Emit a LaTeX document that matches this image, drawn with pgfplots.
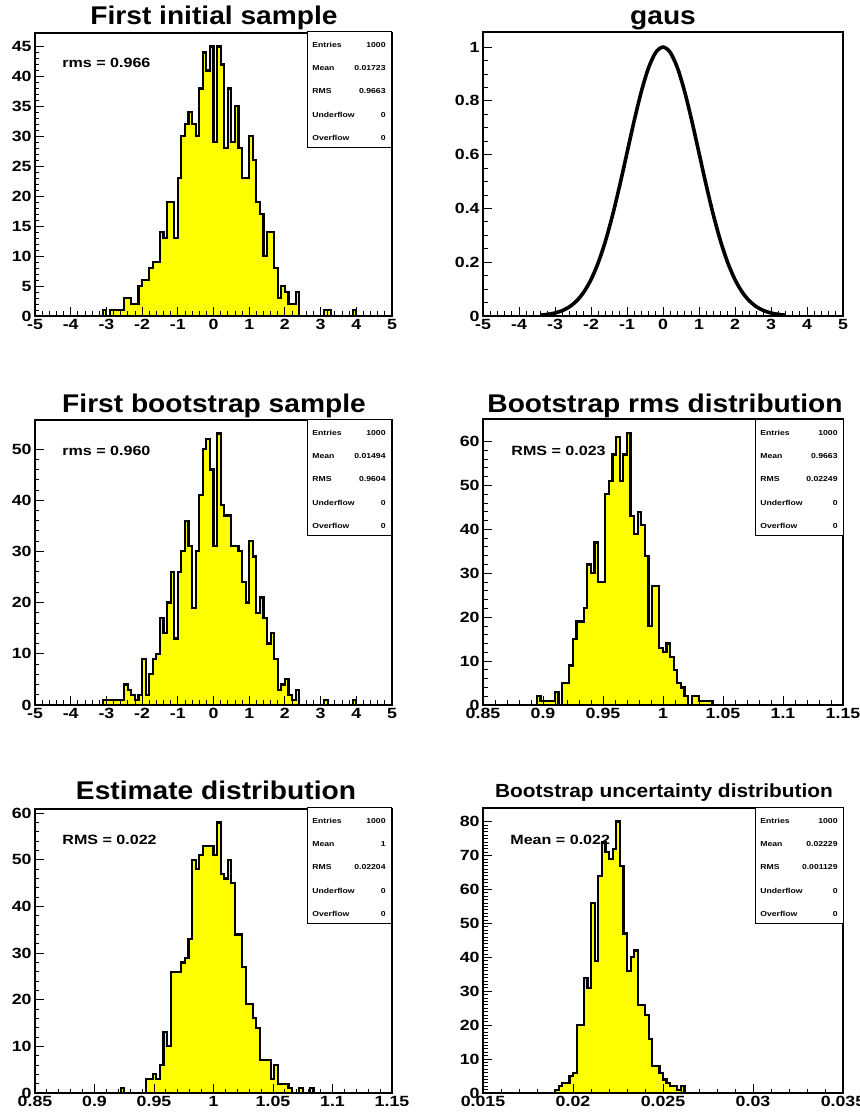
\documentclass[border=0pt]{standalone}
\usepackage{fontspec}
\setmainfont{Liberation Sans}[FakeStretch=1.1]
\newfontfamily\lab{Liberation Sans}[FakeStretch=1.2]
\usepackage{pgfplots}
\pgfplotsset{compat=1.18}
\definecolor{rootyellow}{RGB}{255,255,0}
\newcommand\tickfont{\lab\bfseries\fontsize{7.4}{8}\selectfont}
\newcommand\statfont{\lab\bfseries\fontsize{3.6}{4}\selectfont}
\newcommand\titlefont{\bfseries\fontsize{12.8}{14}\selectfont}
\newcommand\txtfont{\lab\bfseries\fontsize{6.7}{8}\selectfont}
\pgfplotsset{
 rootax/.style={
  scale only axis, axis on top, tick align=inside, tick pos=left,
  axis line style={line width=0.65pt},
  major tick length=4.5pt, minor tick length=2.25pt,
  tick style={black, line width=0.4pt},
  ticklabel style={font=\tickfont},
  xticklabel style={inner sep=1.5pt},
  yticklabel style={inner sep=1.5pt},
  ymin=0, anchor=south west,
 },
 hist/.style={const plot mark left, fill=rootyellow, draw=black, line width=1.1pt, line join=miter},
}
\newcommand{\statbox}[6]{%
 \draw[line width=0.5pt, fill=white] (#1,{1116-#2}) rectangle (#3,{1116-#2-116});
 \foreach \lbl/\val [count=\i from 0] in {Entries/#4, Mean/#5, RMS/#6, Underflow/0, Overflow/0} {
   \node[anchor=west, inner sep=0, font=\statfont] at ({#1+5},{1116-#2-12.8-23.3*\i}) {\lbl};
   \node[anchor=east, inner sep=0, font=\statfont] at ({#3-5},{1116-#2-12.8-23.3*\i}) {\val};
 }}
\begin{document}
\begin{tikzpicture}[x=0.5pt,y=0.5pt]
\path[use as bounding box] (0,0) rectangle (860,1116);

% ---------- Panel 1 ----------
\begin{axis}[rootax, at={(17.5pt,400pt)}, width=178.5pt, height=141.5pt,
  xmin=-5, xmax=5, ymax=47.25,
  xtick={-5,-4,-3,-2,-1,0,1,2,3,4,5}, xticklabels={-5,-4,-3,-2,-1,0,1,2,3,4,5}, minor x tick num=4,
  ytick={0,5,10,15,20,25,30,35,40,45}, yticklabels={0,5,10,15,20,25,30,35,40,45}, minor y tick num=4]
\addplot[hist] coordinates {(-5,0) (-3.1,1) (-3.0,0) (-2.9,1) (-2.8,1) (-2.7,1) (-2.6,1) (-2.5,3) (-2.4,3) (-2.3,2) (-2.2,2) (-2.1,5) (-2.0,6) (-1.9,6) (-1.8,8) (-1.7,9) (-1.6,9) (-1.5,14) (-1.4,13) (-1.3,19) (-1.2,19) (-1.1,13) (-1.0,23) (-0.9,30) (-0.8,32) (-0.7,34) (-0.6,32) (-0.5,30) (-0.4,38) (-0.3,44) (-0.2,41) (-0.1,45) (0.0,29) (0.1,45) (0.2,42) (0.3,28) (0.4,38) (0.5,29) (0.6,35) (0.7,28) (0.8,23) (0.9,23) (1.0,30) (1.1,26) (1.2,19) (1.3,17) (1.4,10) (1.5,14) (1.6,14) (1.7,8) (1.8,3) (1.9,5) (2.0,4) (2.1,2) (2.2,2) (2.3,4) (2.4,0) (3.1,1) (3.2,1) (3.3,0) (3.9,1) (4.0,0) (5,0)};
\end{axis}

% ---------- Panel 2 (gaus) ----------
\begin{axis}[rootax, at={(241.5pt,400pt)}, width=180pt, height=142pt,
  xmin=-5, xmax=5, ymax=1.056,
  xtick={-5,-4,-3,-2,-1,0,1,2,3,4,5}, xticklabels={-5,-4,-3,-2,-1,0,1,2,3,4,5}, minor x tick num=4,
  ytick={0,0.2,0.4,0.6,0.8,1}, yticklabels={0,0.2,0.4,0.6,0.8,1}, minor y tick num=3]
\addplot[black, line width=1.8pt, smooth] coordinates {(-3.4,0.0031) (-3.2,0.0060) (-3.0,0.0111) (-2.8,0.0198) (-2.6,0.0340) (-2.4,0.0561) (-2.2,0.0889) (-2.0,0.1353) (-1.8,0.1979) (-1.6,0.2780) (-1.4,0.3753) (-1.2,0.4868) (-1.0,0.6065) (-0.8,0.7261) (-0.6,0.8353) (-0.4,0.9231) (-0.2,0.9802) (0,1) (0.2,0.9802) (0.4,0.9231) (0.6,0.8353) (0.8,0.7261) (1.0,0.6065) (1.2,0.4868) (1.4,0.3753) (1.6,0.2780) (1.8,0.1979) (2.0,0.1353) (2.2,0.0889) (2.4,0.0561) (2.6,0.0340) (2.8,0.0198) (3.0,0.0111) (3.2,0.0060) (3.4,0.0031)};
\end{axis}

% ---------- Panel 3 ----------
\begin{axis}[rootax, at={(17.5pt,205.5pt)}, width=178.5pt, height=142.5pt,
  xmin=-5, xmax=5, ymax=55.65,
  xtick={-5,-4,-3,-2,-1,0,1,2,3,4,5}, xticklabels={-5,-4,-3,-2,-1,0,1,2,3,4,5}, minor x tick num=4,
  ytick={0,10,20,30,40,50}, yticklabels={0,10,20,30,40,50}, minor y tick num=4]
\addplot[hist] coordinates {(-5,0) (-3.1,1) (-3.0,1) (-2.9,1) (-2.8,1) (-2.7,1) (-2.6,1) (-2.5,4) (-2.4,3) (-2.3,2) (-2.2,1) (-2.1,2) (-2.0,9) (-1.9,2) (-1.8,6) (-1.7,9) (-1.6,10) (-1.5,17) (-1.4,14) (-1.3,20) (-1.2,26) (-1.1,13) (-1.0,26) (-0.9,30) (-0.8,36) (-0.7,31) (-0.6,19) (-0.5,30) (-0.4,41) (-0.3,50) (-0.2,52) (-0.1,46) (0.0,31) (0.1,53) (0.2,39) (0.3,37) (0.4,37) (0.5,31) (0.6,31) (0.7,30) (0.8,24) (0.9,20) (1.0,32) (1.1,29) (1.2,18) (1.3,21) (1.4,17) (1.5,12) (1.6,14) (1.7,9) (1.8,3) (1.9,4) (2.0,5) (2.1,2) (2.2,1) (2.3,3) (2.4,0) (3.1,1) (3.2,0) (3.9,1) (4.0,0) (5,0)};
\end{axis}

% ---------- Panel 4 ----------
\begin{axis}[rootax, at={(241.5pt,205.5pt)}, width=180pt, height=143pt,
  xmin=0.85, xmax=1.15, ymax=65.1,
  xtick={0.85,0.9,0.95,1,1.05,1.1,1.15}, xticklabels={0.85,0.9,0.95,1,1.05,1.1,1.15}, minor x tick num=4,
  ytick={0,10,20,30,40,50,60}, yticklabels={0,10,20,30,40,50,60}, minor y tick num=4]
\addplot[hist] coordinates {(0.85,0) (0.895,2) (0.898,1) (0.901,1) (0.904,1) (0.907,1) (0.910,3) (0.913,0) (0.916,5) (0.919,5) (0.922,9) (0.925,15) (0.928,19) (0.931,19) (0.934,22) (0.937,32) (0.940,30) (0.943,37) (0.946,28) (0.949,28) (0.952,48) (0.955,51) (0.958,57) (0.961,61) (0.964,51) (0.967,57) (0.970,62) (0.973,43) (0.976,39) (0.979,44) (0.982,41) (0.985,34) (0.988,18) (0.991,27) (0.994,27) (0.997,13) (1.000,12) (1.003,14) (1.006,11) (1.009,8) (1.012,5) (1.015,4) (1.018,2) (1.021,0) (1.024,2) (1.027,2) (1.030,1) (1.033,1) (1.036,1) (1.039,1) (1.042,0) (1.15,0)};
\end{axis}

% ---------- Panel 5 ----------
\begin{axis}[rootax, at={(17.5pt,11.5pt)}, width=178.5pt, height=142pt,
  xmin=0.85, xmax=1.15, ymax=60.9,
  xtick={0.85,0.9,0.95,1,1.05,1.1,1.15}, xticklabels={0.85,0.9,0.95,1,1.05,1.1,1.15}, minor x tick num=4,
  ytick={0,10,20,30,40,50,60}, yticklabels={0,10,20,30,40,50,60}, minor y tick num=4]
\addplot[hist] coordinates {(0.85,0) (0.922,1) (0.925,0) (0.943,3) (0.946,3) (0.949,4) (0.952,3) (0.955,6) (0.958,13) (0.961,10) (0.964,26) (0.967,26) (0.970,26) (0.973,28) (0.976,29) (0.979,33) (0.982,50) (0.985,48) (0.988,51) (0.991,53) (0.994,53) (0.997,53) (1.000,51) (1.003,58) (1.006,47) (1.009,46) (1.012,50) (1.015,45) (1.018,34) (1.021,34) (1.024,27) (1.027,19) (1.030,19) (1.033,16) (1.036,14) (1.039,7) (1.042,7) (1.045,7) (1.048,3) (1.051,6) (1.054,2) (1.057,2) (1.060,2) (1.063,1) (1.066,0) (1.072,1) (1.075,0) (1.081,1) (1.084,0) (1.15,0)};
\end{axis}

% ---------- Panel 6 ----------
\begin{axis}[rootax, at={(241.5pt,11.5pt)}, width=180pt, height=142.5pt,
  xmin=0.015, xmax=0.035, ymax=84,
  xtick={0.015,0.02,0.025,0.03,0.035}, xticklabels={0.015,0.02,0.025,0.03,0.035}, minor x tick num=4,
  ytick={0,10,20,30,40,50,60,70,80}, yticklabels={0,10,20,30,40,50,60,70,80}, minor y tick num=9]
\addplot[hist] coordinates {(0.015,0) (0.0190,1) (0.0192,2) (0.0194,3) (0.0196,3) (0.0198,5) (0.0200,6) (0.0202,20) (0.0204,20) (0.0206,34) (0.0208,31) (0.0210,56) (0.0212,39) (0.0214,64) (0.0216,74) (0.0218,71) (0.0220,69) (0.0222,72) (0.0224,80) (0.0226,67) (0.0228,47) (0.0230,36) (0.0232,40) (0.0234,42) (0.0236,26) (0.0238,26) (0.0240,23) (0.0242,16) (0.0244,8) (0.0246,8) (0.0248,6) (0.0250,4) (0.0252,3) (0.0254,2) (0.0256,2) (0.0258,1) (0.0260,2) (0.0262,0) (0.035,0)};
\end{axis}

% ---------- titles ----------
\node[font=\titlefont, anchor=base] at (214,1091) {First initial sample};
\node[font=\titlefont, anchor=base] at (663,1091) {gaus};
\node[font=\titlefont, anchor=base] at (214,703) {First bootstrap sample};
\node[font=\titlefont, anchor=base] at (665,703) {Bootstrap rms distribution};
\node[font=\titlefont, anchor=base] at (216,316) {Estimate distribution};
\node[font=\bfseries\fontsize{9.5}{11}\selectfont, anchor=base] at (664,318) {Bootstrap uncertainty distribution};

% ---------- text labels ----------
\node[font=\txtfont, anchor=west, inner sep=0] at (62,1053) {rms = 0.966};
\node[font=\txtfont, anchor=west, inner sep=0] at (62,665) {rms = 0.960};
\node[font=\txtfont, anchor=west, inner sep=0] at (511,665) {RMS = 0.023};
\node[font=\txtfont, anchor=west, inner sep=0] at (62,276) {RMS = 0.022};
\node[font=\txtfont, anchor=west, inner sep=0] at (510,276) {Mean = 0.022};

% ---------- stat boxes ----------
\statbox{307}{32}{391}{1000}{0.01723}{0.9663}
\statbox{307}{420}{391}{1000}{0.01494}{0.9604}
\statbox{755}{420}{843}{1000}{0.9663}{0.02249}
\statbox{307}{808}{391}{1000}{1}{0.02204}
\statbox{755}{808}{843}{1000}{0.02229}{0.001129}
\end{tikzpicture}
\end{document}
